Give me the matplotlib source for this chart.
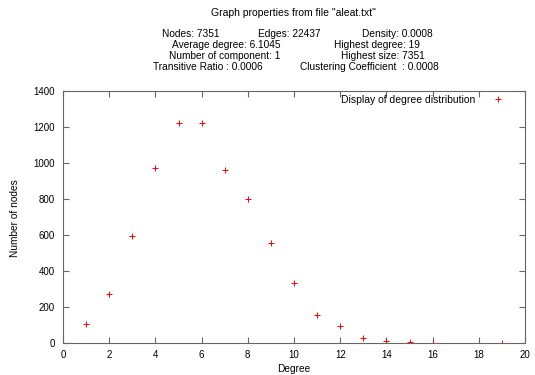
import matplotlib.pyplot as plt

# ====== Данные ======
degree = [1, 2, 3, 4, 5, 6, 7, 8, 9, 10, 11, 12, 13, 14, 15, 16, 19]
nodes = [105, 272, 594, 972, 1222, 1222, 961, 800, 555, 333, 155, 94, 28, 11, 4, 1, 1]

x_ticks = list(range(0, 21, 2))
y_ticks = list(range(0, 1401, 200))

title = 'Graph properties from file "aleat.txt"'
# (текст, левый край в px, y в px)
info_texts = [
    ("Nodes: 7351", 162, 34), ("Edges: 22437", 258, 34), ("Density: 0.0008", 362, 34),
    ("Average degree: 6.1045", 172, 45), ("Highest degree: 19", 334, 45),
    ("Number of component: 1", 169, 56), ("Highest size: 7351", 341, 56),
    ("Transitive Ratio : 0.0006", 153, 67), ("Clustering Coefficient  : 0.0008", 300, 67),
]

W, H = 535, 375
plt.rcParams["font.family"] = ["Liberation Sans", "DejaVu Sans"]
plt.rcParams["font.size"] = 7
fig = plt.figure(figsize=(W / 100, H / 100), dpi=100)

ax = fig.add_axes([63 / W, 1 - 343 / H, (525 - 63) / W, (343 - 91) / H])
ax.plot(degree, nodes, linestyle="none", marker="+", color="red",
        markersize=4.5, markeredgewidth=0.7, label="Display of degree distribution")

ax.set_xlim(0, 20)
ax.set_ylim(0, 1400)
ax.set_xticks(x_ticks)
ax.set_yticks(y_ticks)
ax.tick_params(direction="in", top=True, right=True, length=4, width=0.8,
               color="#666666", labelsize=7)
ax.tick_params(axis="y", pad=6)
ax.tick_params(axis="x", pad=5)
for s in ax.spines.values():
    s.set_color("#666666")
    s.set_linewidth(0.8)
ax.set_xlabel("Degree", fontsize=7.3)
ax.xaxis.set_label_coords((294 - 63) / (525 - 63), -(364 - 343) / (343 - 91))
ax.set_ylabel("Number of nodes", fontsize=7.3)
ax.yaxis.set_label_coords(-(63 - 20) / (525 - 63), (343 - 218) / (343 - 91))

ax.legend(loc="center right", bbox_to_anchor=(508 / W, 1 - 100 / H),
          bbox_transform=fig.transFigure, frameon=False, markerfirst=False,
          fontsize=7.5, handlelength=2, handletextpad=1.1,
          borderpad=0, borderaxespad=0)

# ====== Заголовок ======
fig.text(293 / W, 1 - 13 / H, title, ha="center", va="center", fontsize=7.5)
for txt, x, y in info_texts:
    fig.text(x / W, 1 - y / H, txt, ha="left", va="center", fontsize=7.3)

fig.savefig("out.png", dpi=100)
